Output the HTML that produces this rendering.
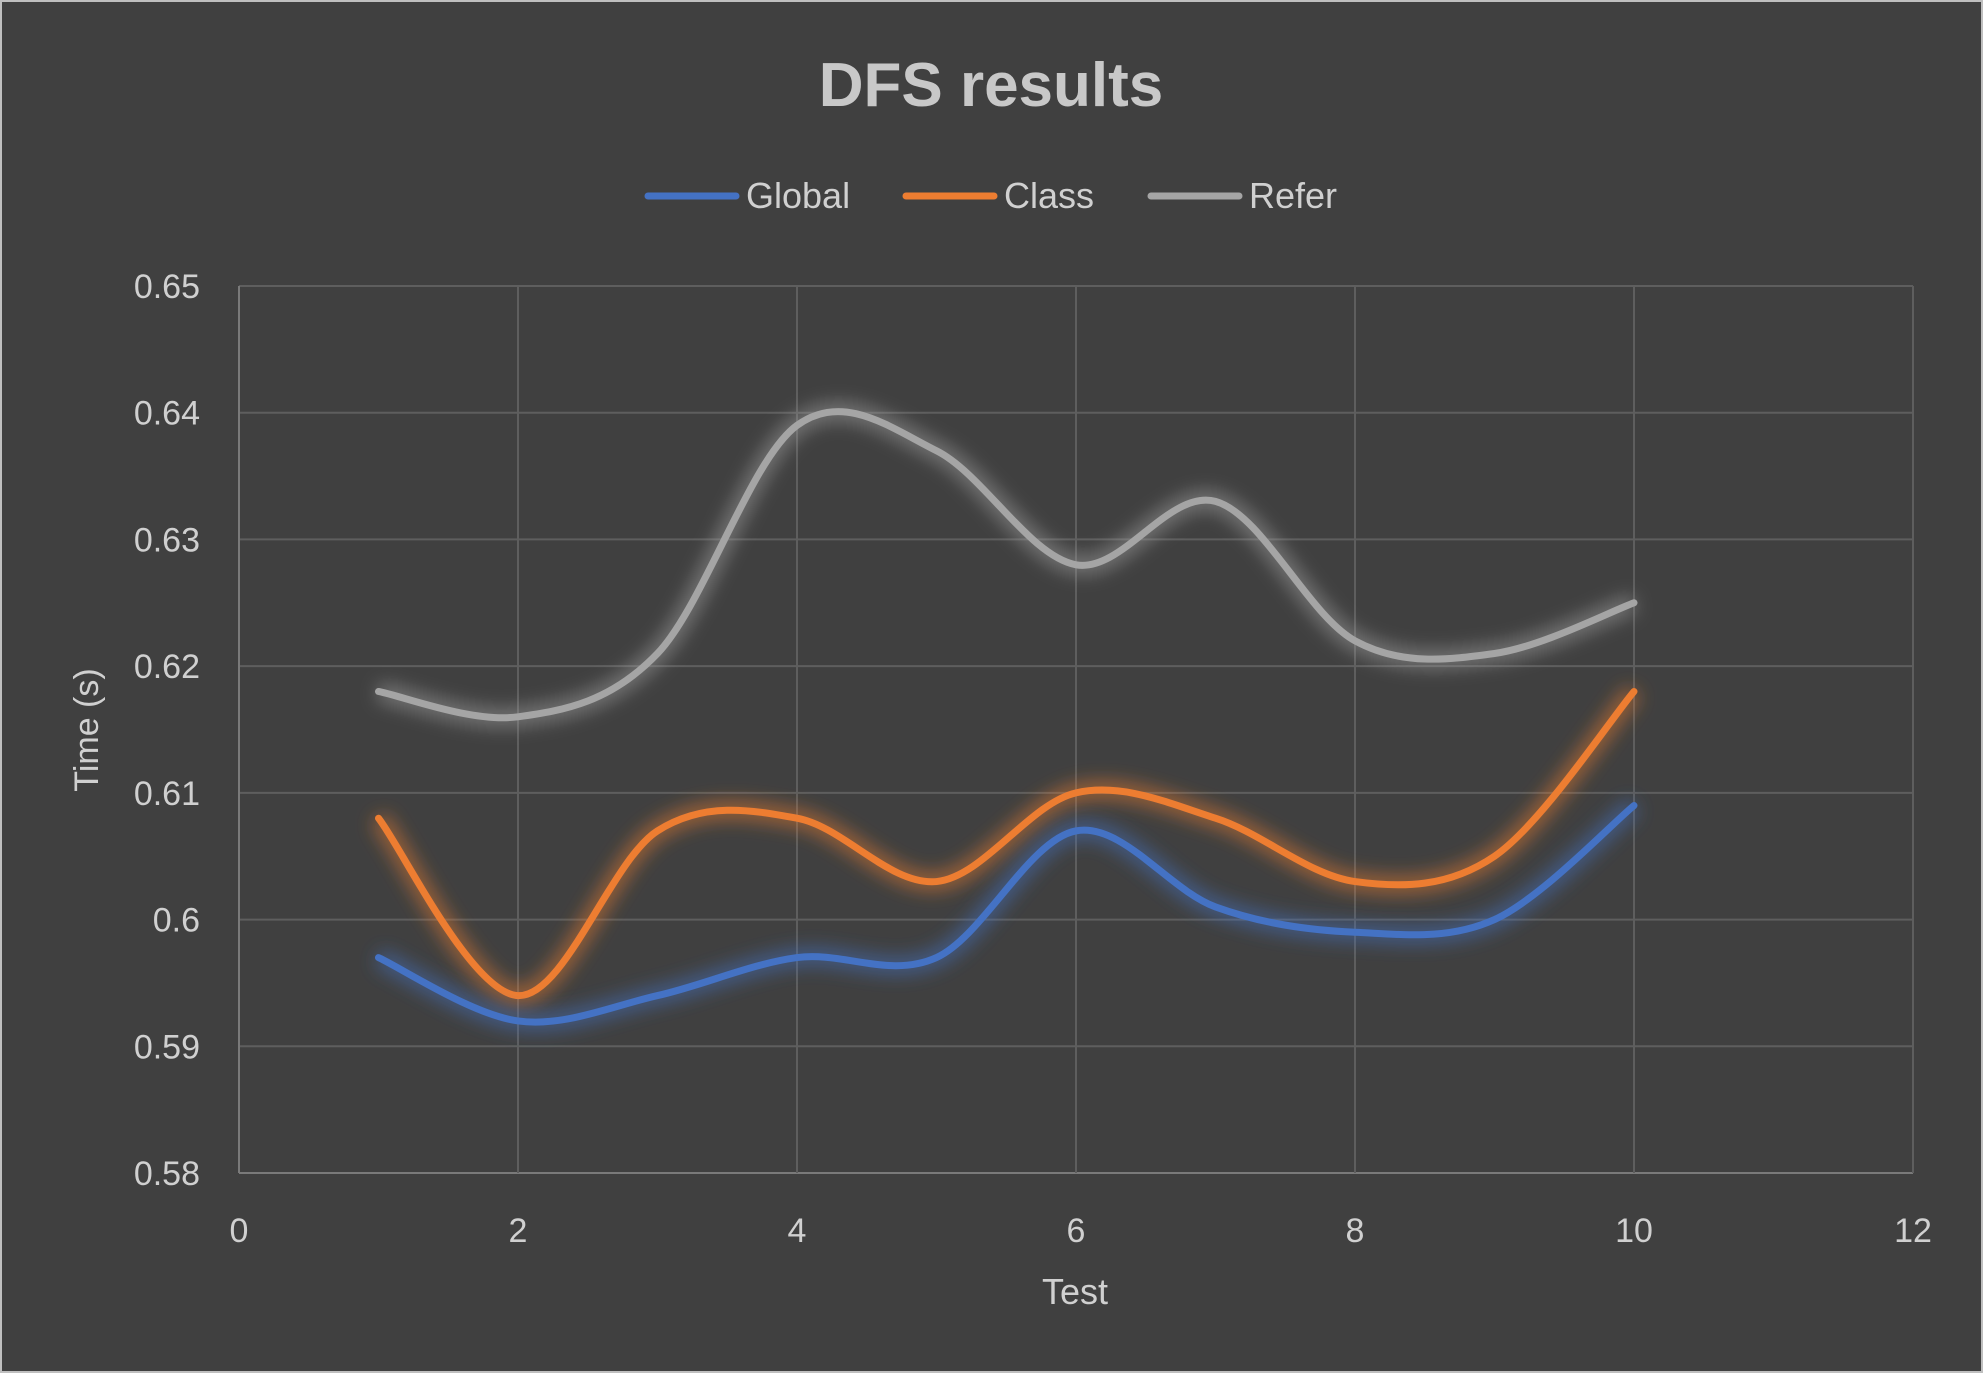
<!DOCTYPE html>
<html><head><meta charset="utf-8"><style>
html,body{margin:0;padding:0;background:#404040;}
svg{display:block;}
text{font-family:"Liberation Sans",sans-serif;fill:#d0d0d0;}
</style></head><body>
<svg id="chart" width="1983" height="1373" viewBox="0 0 1983 1373">
<defs>
<filter id="glow" x="-10%" y="-30%" width="120%" height="160%"><feGaussianBlur stdDeviation="9"/></filter>
</defs>
<rect x="1" y="1" width="1981" height="1371" fill="#404040" stroke="#bfbfbf" stroke-width="2"/>
<text x="991" y="106" text-anchor="middle" font-size="62" font-weight="bold" style="fill:#c8c8c8">DFS results</text>
<g id="grid"></g>
<g id="axes"></g>
<g id="series"></g>
<g id="legend"></g>
<text x="1075" y="1304" text-anchor="middle" font-size="36">Test</text>
<text transform="translate(98,730) rotate(-90)" text-anchor="middle" font-size="34">Time (s)</text>
</svg>
<script>
const xValues=[1,2,3,4,5,6,7,8,9,10];
const globalValues=[0.597,0.592,0.594,0.597,0.597,0.607,0.601,0.599,0.600,0.609];
const classValues=[0.608,0.594,0.607,0.608,0.603,0.610,0.608,0.603,0.605,0.618];
const referValues=[0.618,0.616,0.621,0.639,0.637,0.628,0.633,0.622,0.621,0.625];
const xTicks=[0,2,4,6,8,10,12];
const yTicks=[0.58,0.59,0.60,0.61,0.62,0.63,0.64,0.65];
const yTickLabels=["0.58","0.59","0.6","0.61","0.62","0.63","0.64","0.65"];
const seriesNames=["Global","Class","Refer"];

const NS="http://www.w3.org/2000/svg";
const X0=239,X1=1913,Y0=1173,Y1=286;
const xs=v=>X0+(v-0)/(12-0)*(X1-X0);
const ys=v=>Y0-(v-0.58)/(0.65-0.58)*(Y0-Y1);
function mk(tag,attrs,parent){const e=document.createElementNS(NS,tag);for(const k in attrs)e.setAttribute(k,attrs[k]);parent.appendChild(e);return e;}
const grid=document.getElementById('grid'),axes=document.getElementById('axes'),ser=document.getElementById('series'),leg=document.getElementById('legend');
yTicks.forEach((t,i)=>{
  const l=mk('line',{x1:X0,x2:X1,y1:ys(t),y2:ys(t),stroke:i===0?'#7a7a7a':'#5e5e5e','stroke-width':2},grid);
  
  
  const tx=mk('text',{x:200,y:ys(t)+12,'text-anchor':'end','font-size':34},axes);
  tx.textContent=yTickLabels[i];
  
  
});
xTicks.forEach(t=>{
  const l=mk('line',{x1:xs(t),x2:xs(t),y1:Y1,y2:Y0,stroke:t===0?'#7a7a7a':'#5e5e5e','stroke-width':2},grid);
  
  
  const tx=mk('text',{x:xs(t),y:1242,'text-anchor':'middle','font-size':34},axes);
  tx.textContent=String(t);
  
  
});
function smooth(vals){
  const p=vals.map((v,i)=>[xs(xValues[i]),ys(v)]);
  let d=`M${p[0][0]},${p[0][1]}`;
  for(let i=0;i<p.length-1;i++){
    const a=p[i-1]||p[i],b=p[i],c=p[i+1],e=p[i+2]||c;
    const c1=[b[0]+(c[0]-a[0])/6,b[1]+(c[1]-a[1])/6],c2=[c[0]-(e[0]-b[0])/6,c[1]-(e[1]-b[1])/6];
    d+=` C${c1[0]},${c1[1]} ${c2[0]},${c2[1]} ${c[0]},${c[1]}`;
  }
  return d;
}
const all=[globalValues,classValues,referValues],cols=['#4472C4','#ED7D31','#A5A5A5'];
[2,1,0].forEach(i=>{
  const d=smooth(all[i]);
  const g=mk('path',{d,fill:'none',stroke:cols[i],'stroke-width':18,'stroke-opacity':0.55,filter:'url(#glow)'},ser);
  
  
  const p=mk('path',{d,fill:'none',stroke:cols[i],'stroke-width':7,'stroke-linecap':'round'},ser);
  
  
});
const lx=[648,906,1151];
seriesNames.forEach((n,i)=>{
  const l=mk('line',{x1:lx[i],x2:lx[i]+88,y1:196,y2:196,stroke:cols[i],'stroke-width':7,'stroke-linecap':'round'},leg);
  
  
  const t=mk('text',{x:lx[i]+98,y:208,'font-size':36},leg);
  t.textContent=n;
  
  
});
</script>
</body></html>
